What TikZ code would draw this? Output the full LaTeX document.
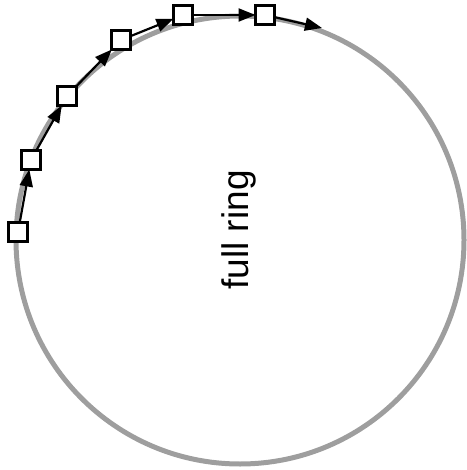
\documentclass[tikz,border=0pt]{standalone}
\usepackage{fontspec}
\setmainfont{Liberation Sans}
\usetikzlibrary{arrows.meta}
\begin{document}
\begin{tikzpicture}[x=1pt,y=-1pt,
  ringline/.style={draw=black!38,line width=5pt},
  sq/.style={draw=black,fill=white,line width=2.6pt,minimum size=19pt,inner sep=0pt,outer sep=0pt},
  hop/.style={draw=black,line width=2.2pt,-{Triangle[length=17pt,width=13pt]}},
  lbl/.style={rotate=90,font=\fontsize{37}{40}\selectfont,inner sep=0pt}]
\useasboundingbox (0,0) rectangle (466,470);
\draw[ringline] (240,240) circle (224);
\node[sq] (s1) at (18,232) {};
\node[sq] (s2) at (31,160) {};
\node[sq] (s3) at (67,96) {};
\node[sq] (s4) at (121,40) {};
\node[sq] (s5) at (183,15) {};
\node[sq] (s6) at (265,15) {};
\coordinate (e) at (322,28);
\draw[hop] (s1) -- (s2);
\draw[hop] (s2) -- (s3);
\draw[hop] (s3) -- (s4);
\draw[hop] (s4) -- (s5);
\draw[hop] (s5) -- (s6);
\draw[hop] (s6) -- (e);
\node[lbl] (t) at (239,230) {full ring};
\end{tikzpicture}
\end{document}
